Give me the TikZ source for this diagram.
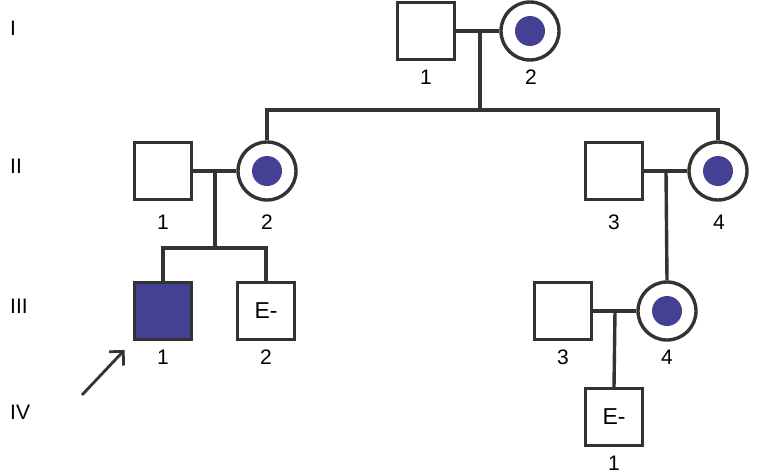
\documentclass[tikz,border=0pt]{standalone}
\usepackage{fontspec}
\setmainfont{Liberation Sans}
\usetikzlibrary{arrows.meta}
\definecolor{affect}{RGB}{68,64,148}
\definecolor{pedline}{RGB}{51,51,51}
\tikzset{
  male/.style={draw=pedline, line width=3.4pt, minimum size=57pt, inner sep=0pt, fill=white, font=\fontsize{23}{27}\selectfont},
  female/.style={draw=pedline, line width=3.4pt, circle, minimum size=58pt, inner sep=0pt, fill=white},
  affected/.style={fill=affect},
  num/.style={font=\fontsize{21}{25}\selectfont, inner sep=0pt},
  gen/.style={font=\fontsize{21}{25}\selectfont, inner sep=0pt, anchor=west},
  link/.style={draw=pedline, line width=3.4pt},
}
\begin{document}
\begin{tikzpicture}[x=1pt, y=-1pt]
    \useasboundingbox (0,0) rectangle (763,474);
    % generation labels
    \node[gen] (gI)   at (10,28)  {I};
    \node[gen] (gII)  at (10,166) {II};
    \node[gen] (gIII) at (10,306) {III};
    \node[gen] (gIV)  at (10,412) {IV};
    % generation I
    \node[male]   (m11) at (426,31) {};
    \node[female] (f12) at (530,31) {};
    \fill[affect] (f12) circle (15pt);
    \node[num] (n11) at (426,77) {1};
    \node[num] (n12) at (531,77) {2};
    % generation II
    \node[male]   (m21) at (163,171) {};
    \node[female] (f22) at (267,171) {};
    \fill[affect] (f22) circle (15pt);
    \node[male]   (m23) at (614,171) {};
    \node[female] (f24) at (718,171) {};
    \fill[affect] (f24) circle (15pt);
    \node[num] (n21) at (163,222) {1};
    \node[num] (n22) at (267,222) {2};
    \node[num] (n23) at (614,222) {3};
    \node[num] (n24) at (719,222) {4};
    % generation III
    \node[male, affected] (m31) at (163,311) {};
    \node[male]   (m32) at (266,311) {E-};
    \node[male]   (m33) at (563,311) {};
    \node[female] (f34) at (667,311) {};
    \fill[affect] (f34) circle (15pt);
    \node[num] (n31) at (163,357) {1};
    \node[num] (n32) at (266,357) {2};
    \node[num] (n33) at (563,357) {3};
    \node[num] (n34) at (667,357) {4};
    % generation IV
    \node[male] (m41) at (614,417) {E-};
    \node[num] (n41) at (614,463) {1};
    % matings and descent
    \coordinate (d1) at (480,31);
    \coordinate (s1) at (480,110);
    \draw[link] (m11) -- (f12);
    \draw[link] (d1) -- (s1);
    \draw[link] (f22.north) |- (s1) -| (f24.north);
    \coordinate (d2) at (215,171);
    \coordinate (s2) at (215,248);
    \draw[link] (m21) -- (f22);
    \draw[link] (d2) -- (s2);
    \draw[link] (m31.north) |- (s2) -| (m32.north);
    \coordinate (d3) at (666,171);
    \draw[link] (m23) -- (f24);
    \draw[link] (d3) -- (f34.north);
    \coordinate (d4) at (615,311);
    \draw[link] (m33) -- (f34);
    \draw[link] (d4) -- (m41.north);
    % proband
    \coordinate (pb) at (82,395);
    \draw[link, line width=2.8pt, shorten >=12pt, -{Straight Barb[length=10pt, width=20pt]}] (pb) -- (m31.south west);
\end{tikzpicture}
\end{document}
